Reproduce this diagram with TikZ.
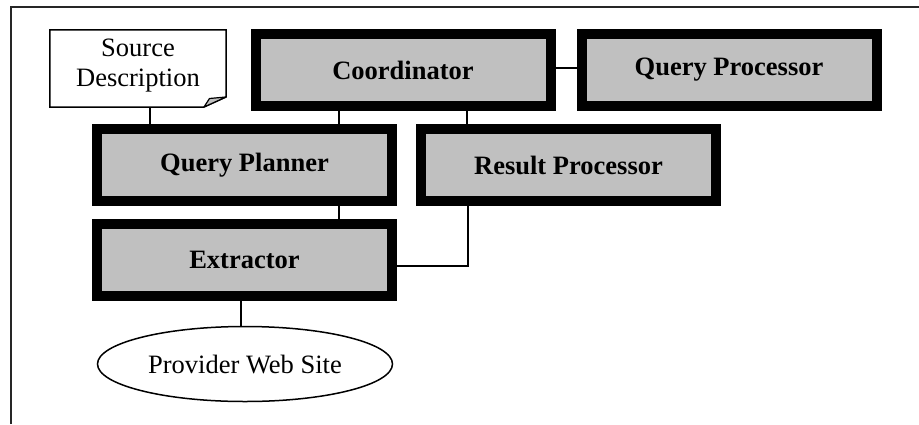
\documentclass[tikz,border=0pt]{standalone}
\usepackage{fontspec}
\setmainfont{Liberation Serif}
\usetikzlibrary{shapes.geometric}
\definecolor{boxgray}{HTML}{C0C0C0}
\tikzset{
  module/.style={draw=black, line width=10pt, fill=boxgray,
    minimum width=295pt, minimum height=72pt, inner sep=0pt,
    font=\fontsize{26.5}{30}\selectfont\bfseries},
  plain/.style={font=\fontsize{26.5}{30}\selectfont},
  link/.style={draw=black, line width=1.5pt},
  frameline/.style={draw=black!85, line width=2pt}
}
\begin{document}
\begin{tikzpicture}[x=1pt, y=-1pt]
\useasboundingbox (0,0) rectangle (919,424);

% outer frame (top and left rules)
\draw[frameline] (11,424) -- (11,7) -- (919,7);

% main modules
\node[module] (coord)  at (403,70)    {Coordinator};
\node[module] (qproc)  at (729,70)    {Query Processor};
\node[module] (qplan)  at (244.5,165) {Query Planner};
\node[module] (rproc)  at (568.5,165) {Result Processor};
\node[module] (extr)   at (244.5,260) {Extractor};

% source description note with folded corner
\node[plain, align=center, minimum width=176pt, minimum height=77pt, inner sep=0pt]
  (src) at (138,66) {Source\\Description};
\draw[line width=1.5pt, fill=white]
  ([yshift=-2.5pt]src.north west) -- ([yshift=-2.5pt]src.north east)
  -- (226,97) -- (204,107) -- ([yshift=-2.5pt]src.south west) -- cycle;
\node[plain, align=center] at (src) {Source\\Description};
\draw[line width=1.2pt, fill=boxgray, line join=round]
  (204,107) -- (209.5,98.5) -- (226,97) -- cycle;

% provider web site
\node[draw=black, line width=1.5pt, ellipse, minimum width=295pt, minimum height=75pt,
  inner sep=0pt, plain] (web) at (245,364) {Provider Web Site};

% connectors
\coordinate (srcfoot) at (150,107);
\draw[link] (srcfoot) -- (qplan.north -| srcfoot);
\draw[link] (coord.east |- 0,68) -- (qproc.west |- 0,68);
\draw[link] (coord.south -| 339,0) -- (qplan.north -| 339,0);
\draw[link] (coord.south -| 467,0) -- (rproc.north -| 467,0);
\draw[link] (qplan.south -| 339,0) -- (extr.north -| 339,0);
\draw[link] (rproc.south -| 468,0) |- (extr.east |- 0,266);
\draw[link] (extr.south -| 241,0) -- (web.north -| 241,0);
\end{tikzpicture}
\end{document}
